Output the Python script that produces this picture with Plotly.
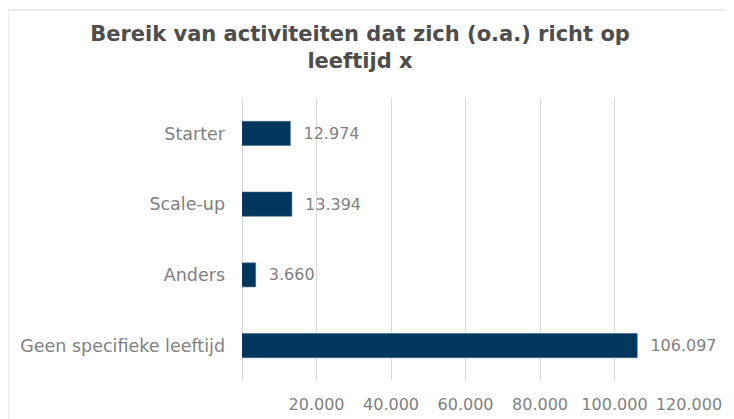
import plotly.graph_objects as go

categories = ["Starter", "Scale-up", "Anders", "Geen specifieke leeftijd"]
values = [12974, 13394, 3660, 106097]
tick_values = [20000, 40000, 60000, 80000, 100000, 120000]

# page has an 8px body margin; figure coordinates are compensated for it
OFF = 8
L, R_EDGE, T, B_EDGE = 242 - OFF, 689 - OFF, 98 - OFF, 381 - OFF
PW, PH = R_EDGE - L, B_EDGE - T

fig = go.Figure(go.Bar(
    x=values, y=categories, orientation="h",
    marker=dict(color="#01365F", line=dict(color="#3F5F80", width=0.6)),
    width=0.34,
    texttemplate="\u00a0\u00a0%{x:,.0f}",
    textposition="outside",
    textfont=dict(family="DejaVu Sans", size=16, color="#7F7F7F"),
    cliponaxis=False, constraintext="none",
    hoverinfo="skip",
))

fig.update_layout(
    width=734, height=419,
    separators=",.",
    paper_bgcolor="white", plot_bgcolor="white",
    margin=dict(l=L, r=734 - R_EDGE, t=T, b=419 - B_EDGE),
    title=dict(
        text="<b>Bereik van activiteiten dat zich (o.a.) richt op<br>leeftijd x</b>",
        x=(360 - OFF) / 734, xref="container", xanchor="center",
        y=1 - 33 / 419, yref="container", yanchor="top",
        font=dict(family="DejaVu Sans", size=21, color="#4D4D4D"),
    ),
    xaxis=dict(
        range=[0, 120000], tickvals=tick_values, tickformat=",.0f",
        showgrid=True, gridcolor="#D9D9D9", gridwidth=1,
        zeroline=True, zerolinecolor="#D9D9D9", zerolinewidth=1,
        showline=False, ticks="", ticklabelstandoff=12, automargin=False,
        tickfont=dict(family="DejaVu Sans", size=16, color="#7F7F7F"),
    ),
    yaxis=dict(
        autorange="reversed", showgrid=False, showline=False, ticks="",
        ticklabelstandoff=16, automargin=False,
        tickfont=dict(family="DejaVu Sans", size=17.5, color="#7F7F7F"),
    ),
    showlegend=False,
    shapes=[dict(
        type="rect", xref="paper", yref="paper",
        x0=(0 - L) / PW, x1=(760 - L) / PW,
        y0=(B_EDGE - 440) / PH, y1=(B_EDGE - 2) / PH,
        line=dict(color="#D9D9D9", width=1), fillcolor="rgba(0,0,0,0)",
        layer="below",
    )],
)

fig.write_html("out.html")
